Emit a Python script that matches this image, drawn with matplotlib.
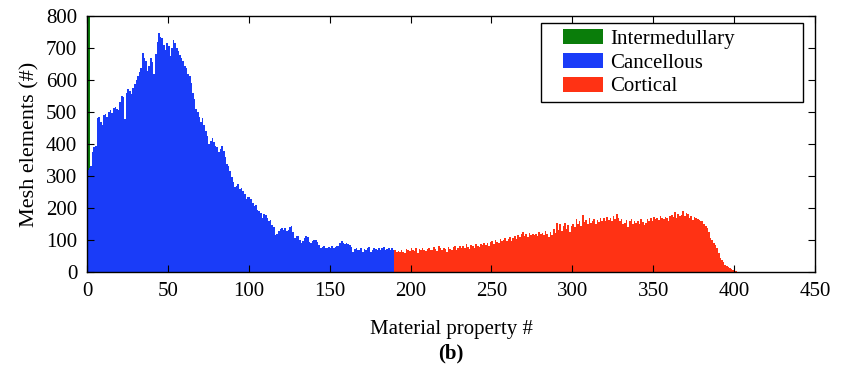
import numpy as np
import matplotlib
matplotlib.use("Agg")
import matplotlib.pyplot as plt
from matplotlib.patches import Rectangle

# ---- data (counts per material property bin, bin width 1) ----
green_start = 0
green_counts = [1800, 1100]

blue_start = 0
blue_counts = [
    320, 325, 330, 375, 390, 395, 480, 485, 470, 460,
    490, 495, 485, 500, 505, 498, 512, 516, 508, 505,
    530, 551, 548, 479, 560, 573, 565, 557, 575, 589,
    600, 614, 625, 636, 683, 668, 660, 627, 645, 668,
    655, 620, 680, 720, 746, 735, 731, 710, 694, 715,
    705, 674, 700, 725, 715, 699, 690, 678, 668, 658,
    645, 636, 620, 611, 590, 560, 540, 510, 500, 485,
    470, 480, 458, 440, 426, 400, 410, 420, 405, 395,
    390, 375, 385, 395, 379, 360, 337, 330, 315, 296,
    280, 265, 270, 274, 260, 262, 253, 245, 227, 235,
    233, 228, 215, 206, 210, 195, 190, 185, 170, 182,
    179, 168, 158, 162, 148, 140, 116, 120, 127, 135,
    139, 130, 139, 127, 132, 140, 143, 125, 107, 112,
    111, 100, 91, 98, 105, 113, 110, 95, 91, 96,
    100, 101, 95, 85, 75, 78, 82, 76, 75, 78,
    75, 80, 75, 78, 80, 82, 90, 96, 92, 88,
    91, 86, 85, 78, 64, 72, 75, 70, 69, 74,
    64, 72, 69, 75, 78, 64, 70, 75, 72, 69,
    75, 70, 75, 78, 69, 72, 75, 68, 75, 70,
]

red_start = 190
red_counts = [
    69, 64, 66, 62, 70, 64, 60, 72, 68, 65,
    75, 70, 66, 74, 60, 72, 68, 75, 70, 66,
    72, 75, 68, 70, 78, 72, 66, 82, 74, 70,
    76, 72, 64, 78, 73, 70, 77, 80, 68, 74,
    80, 76, 82, 74, 88, 78, 72, 84, 80, 76,
    86, 82, 78, 88, 84, 91, 85, 90, 82, 94,
    96, 88, 101, 95, 92, 104, 98, 100, 107, 96,
    104, 110, 98, 106, 112, 104, 115, 108, 118, 124,
    112, 118, 110, 122, 115, 120, 116, 120, 112, 125,
    118, 122, 115, 127, 120, 110, 125, 116, 135, 122,
    154, 130, 150, 128, 145, 154, 135, 148, 125, 143,
    150, 140, 165, 150, 160, 145, 179, 155, 162, 150,
    168, 152, 158, 165, 150, 162, 155, 170, 160, 169,
    158, 172, 162, 168, 160, 175, 165, 182, 170, 160,
    165, 150, 154, 162, 140, 158, 165, 150, 158, 152,
    160, 150, 165, 155, 148, 154, 165, 158, 168, 160,
    172, 165, 170, 162, 175, 169, 165, 172, 168, 160,
    175, 178, 172, 187, 170, 182, 176, 178, 190, 175,
    185, 180, 170, 176, 164, 172, 168, 165, 161, 158,
    160, 150, 143, 138, 125, 107, 100, 92, 85, 75,
    60, 45, 38, 30, 22, 19, 15, 12, 10, 6,
    4, 2, 0,
]

labels = ["Intermedullary", "Cancellous", "Cortical"]
colors = ["#0a7d0a", "#1a3cf8", "#ff3214"]
x_ticks = [0, 50, 100, 150, 200, 250, 300, 350, 400, 450]
y_ticks = [0, 100, 200, 300, 400, 500, 600, 700, 800]

plt.rcParams["font.family"] = ["Liberation Serif", "DejaVu Serif"]

W, H = 841, 373
fig = plt.figure(figsize=(W / 100, H / 100), dpi=100)
ax = fig.add_axes([87 / W, 1 - 272 / H, (815 - 87) / W, (272 - 16) / H])

series = [(green_start, green_counts), (blue_start, blue_counts), (red_start, red_counts)]
for (start, counts), lab, col in zip(series, labels, colors):
    edges = np.arange(start, start + len(counts) + 1)
    ax.stairs(counts, edges, fill=True, color=col, label=lab, linewidth=0)

ax.set_xlim(0, 450)
ax.set_ylim(0, 800)
ax.set_xticks(x_ticks)
ax.set_yticks(y_ticks)
ax.tick_params(direction="in", top=True, right=True, length=5, width=0.8,
               labelsize=15, pad=7)
for s in ax.spines.values():
    s.set_linewidth(1.0)

ax.set_xlabel("Material property #", fontsize=15, labelpad=14)
ax.set_ylabel("Mesh elements (#)", fontsize=16, labelpad=5)

# legend frame (wide box) and entries
frame = Rectangle((541 / W, 1 - 102 / H), (803 - 541) / W, (102 - 23) / H,
                  transform=fig.transFigure, facecolor="white",
                  edgecolor="black", linewidth=1.0, zorder=5, clip_on=False)
ax.add_patch(frame)
leg = ax.legend(loc="upper left", bbox_to_anchor=(563 / W, 1 - 29 / H),
                bbox_transform=fig.transFigure, borderaxespad=0, borderpad=0,
                frameon=False, fontsize=15, handlelength=1.9, handleheight=0.72,
                labelspacing=0.2, handletextpad=0.35)
leg.set_zorder(7)

fig.text(ax.get_position().x0 + ax.get_position().width / 2, 1 - 353 / H, "(b)",
         ha="center", va="center", fontsize=15, fontweight="bold")

fig.savefig("out.png", dpi=100)
